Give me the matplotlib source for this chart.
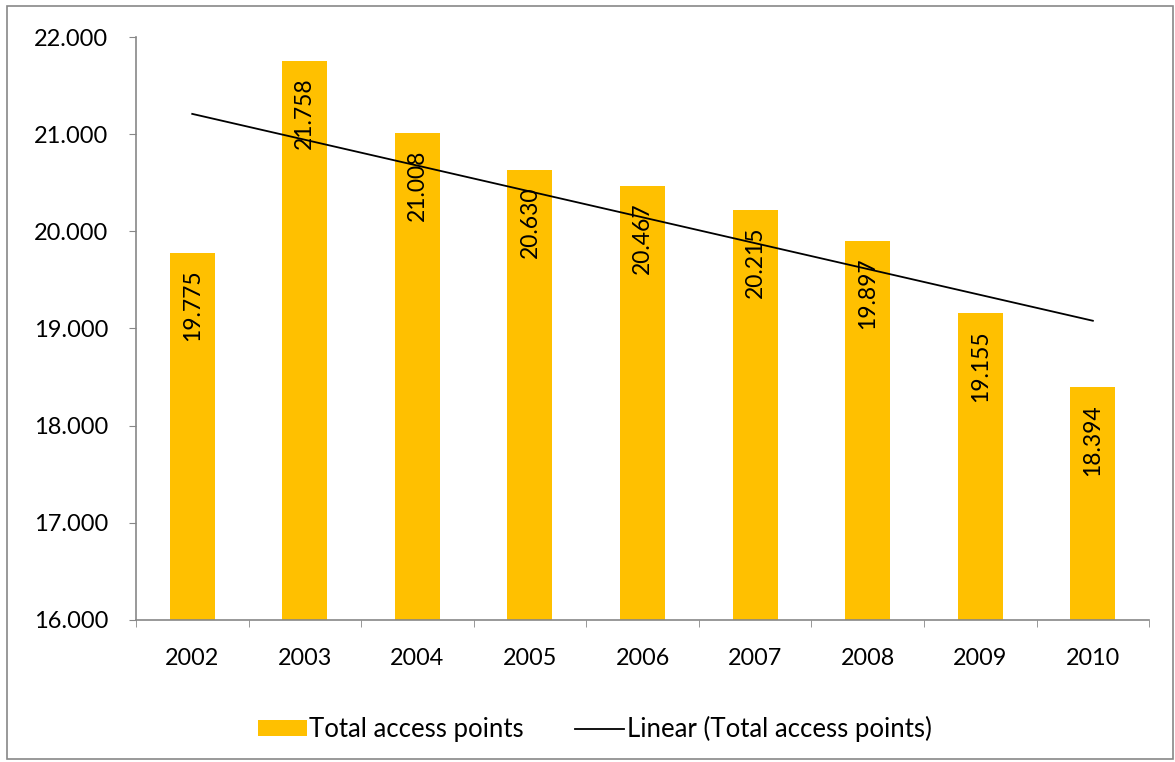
import numpy as np
import matplotlib
matplotlib.use('Agg')
import matplotlib.pyplot as plt
from matplotlib.ticker import FuncFormatter
from matplotlib.patches import Rectangle

plt.rcParams['font.family'] = ['Lato', 'DejaVu Sans']

years = ['2002', '2003', '2004', '2005', '2006', '2007', '2008', '2009', '2010']
access_points = [19775, 21758, 21008, 20630, 20467, 20215, 19897, 19155, 18394]

gold = '#FFC000'
grey = '#878787'

fig = plt.figure(figsize=(11.75, 7.62), dpi=100)
ax = fig.add_axes([0.1157, 0.1864, 0.8623, 0.765])

x = np.arange(len(years))
bars = ax.bar(x, access_points, width=0.4, color=gold, label='Total access points', zorder=2)

# linear trend
slope, intercept = np.polyfit(x, access_points, 1)
trend, = ax.plot(x, slope * x + intercept, color='black', lw=1.3,
                 label='Linear (Total access points)', zorder=3)

def dotted(v, pos=None):
    return f'{v:,.0f}'.replace(',', '.')

for xi, v in zip(x, access_points):
    ax.text(xi, v - 170, dotted(v), rotation=90, ha='center', va='top', fontsize=16.5, zorder=4)

ax.set_xlim(-0.5, len(years) - 0.5)
ax.set_ylim(16000, 22000)
ax.set_yticks(np.arange(16000, 22001, 1000))
ax.yaxis.set_major_formatter(FuncFormatter(dotted))
ax.set_xticks(x)
ax.set_xticklabels(years)
ax.set_xticks(np.arange(-0.5, len(years)), minor=True)
ax.tick_params(axis='x', which='major', length=0, pad=20, labelsize=16.8)
ax.tick_params(axis='x', which='minor', length=5, color=grey, direction='out')
ax.tick_params(axis='y', length=5, color=grey, direction='out', pad=15, labelsize=17)

for s in ['top', 'right']:
    ax.spines[s].set_visible(False)
for s in ['left', 'bottom']:
    ax.spines[s].set_color(grey)
    ax.spines[s].set_linewidth(1.2)

ax.legend([bars, trend], ['Total access points', 'Linear (Total access points)'],
          loc='center', bbox_to_anchor=(0.506, 0.043), bbox_transform=fig.transFigure,
          ncol=2, frameon=False, fontsize=18.5, handlelength=1.9, handleheight=0.55,
          handletextpad=0.1, columnspacing=2.0)

fig.patches.append(Rectangle((0.006, 0.004), 0.992, 0.988, transform=fig.transFigure,
                             fill=False, edgecolor=grey, lw=1.2))

fig.savefig('out.png', dpi=100)
